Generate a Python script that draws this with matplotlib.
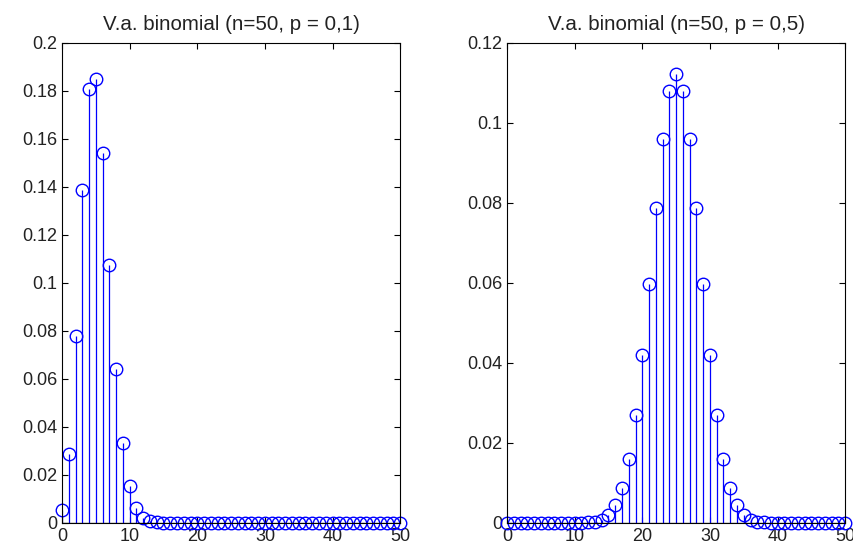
import matplotlib
matplotlib.use('Agg')
from matplotlib import pyplot as plt
from matplotlib.ticker import FuncFormatter

k = list(range(51))

# values (n=50, p=0.1)
p_left = [0.0052, 0.0286, 0.0779, 0.1386, 0.1809, 0.1849, 0.1541, 0.1076,
          0.0643, 0.0333, 0.0152, 0.0061, 0.0022, 0.0007, 0.0002, 0.0001] + [0.0] * 35

# values (n=50, p=0.5)
p_right = [0.0] * 12 + [0.0001, 0.0003, 0.0008, 0.0020, 0.0044, 0.0087, 0.0160,
           0.0270, 0.0419, 0.0598, 0.0788, 0.0960, 0.1080, 0.1123, 0.1080,
           0.0960, 0.0788, 0.0598, 0.0419, 0.0270, 0.0160, 0.0087, 0.0044,
           0.0020, 0.0008, 0.0003, 0.0001] + [0.0] * 12

titles = ['V.a. binomial (n=50, p = 0,1)', 'V.a. binomial (n=50, p = 0,5)']
ylims = [0.2, 0.12]

plt.rcParams['font.family'] = ['Liberation Sans', 'DejaVu Sans']
plt.rcParams['font.size'] = 13

fig = plt.figure(figsize=(8.54, 5.51), dpi=100)
ax1 = fig.add_axes([0.0726, 0.051, 0.396, 0.871])
ax2 = fig.add_axes([0.5937, 0.051, 0.396, 0.871])

def fmt(v, pos):
    s = ('%.2f' % v).rstrip('0').rstrip('.')
    return s if s else '0'

for ax, vals, title, ytop in zip([ax1, ax2], [p_left, p_right], titles, ylims):
    markerline, stemlines, baseline = ax.stem(k, vals, linefmt='b-', markerfmt='o', basefmt='k-')
    markerline.set_markerfacecolor('none')
    markerline.set_markeredgecolor('#0000ff')
    markerline.set_markersize(9)
    markerline.set_markeredgewidth(1.0)
    markerline.set_clip_on(False)
    stemlines.set_linewidth(0.9)
    stemlines.set_color('#0000ff')
    baseline.set_linewidth(0.9)
    ax.set_xlim(0, 50)
    ax.set_ylim(0, ytop)
    ax.set_xticks(range(0, 51, 10))
    ax.set_yticks([i * 0.02 for i in range(int(round(ytop / 0.02)) + 1)])
    ax.yaxis.set_major_formatter(FuncFormatter(fmt))
    ax.tick_params(direction='in', top=True, right=True, length=4, width=0.8,
                   labelsize=13, labelcolor='#222222')
    for sp in ax.spines.values():
        sp.set_linewidth(0.8)
    ax.set_title(title, fontsize=14.8, pad=9, color='#222222')

fig.savefig('out.png', dpi=100)
